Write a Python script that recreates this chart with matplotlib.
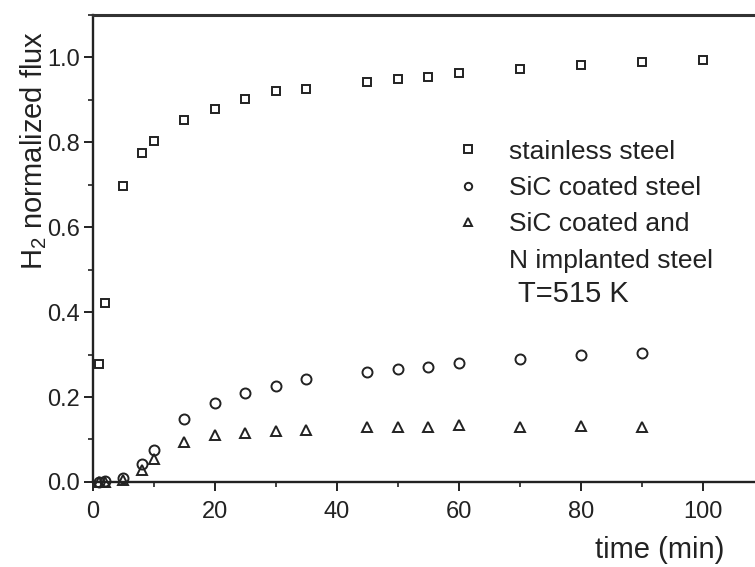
import matplotlib
matplotlib.use("Agg")
import matplotlib.pyplot as plt
from matplotlib.lines import Line2D
from matplotlib.ticker import MultipleLocator

plt.rcParams['font.family'] = ['Liberation Sans', 'DejaVu Sans']
plt.rcParams['mathtext.fontset'] = 'custom'
plt.rcParams['mathtext.rm'] = 'Liberation Sans'

# stainless steel
ss_time = [1, 2, 5, 8, 10, 15, 20, 25, 30, 35, 45, 50, 55, 60, 70, 80, 90, 100]
ss_flux = [0.278, 0.422, 0.696, 0.774, 0.804, 0.852, 0.879, 0.903, 0.920, 0.925,
           0.941, 0.950, 0.955, 0.964, 0.972, 0.983, 0.990, 0.995]

# SiC coated steel
sic_time = [1, 2, 5, 8, 10, 15, 20, 25, 30, 35, 45, 50, 55, 60, 70, 80, 90]
sic_flux = [0.0, 0.003, 0.010, 0.042, 0.075, 0.149, 0.186, 0.210, 0.226, 0.243,
            0.260, 0.266, 0.271, 0.280, 0.290, 0.300, 0.304]

# SiC coated and N implanted steel
sicn_time = [1, 2, 5, 8, 10, 15, 20, 25, 30, 35, 45, 50, 55, 60, 70, 80, 90]
sicn_flux = [0.0, 0.0, 0.005, 0.028, 0.054, 0.094, 0.110, 0.115, 0.120, 0.123,
             0.130, 0.130, 0.130, 0.134, 0.130, 0.132, 0.130]

ink = '#222222'

fig = plt.figure(figsize=(7.55, 5.67), dpi=100)
ax = fig.add_axes([0.123, 0.150, 0.889, 0.8236])

mk = dict(linestyle='none', markerfacecolor='none', markeredgecolor=ink,
          markeredgewidth=1.4, clip_on=False)
ax.plot(ss_time, ss_flux, marker='s', markersize=5.8, **mk)
ax.plot(sic_time, sic_flux, marker='o', markersize=7.2, **mk)
ax.plot(sicn_time, sicn_flux, marker='^', markersize=6.8, **mk)

ax.set_xlim(0, 110)
ax.set_ylim(0, 1.1)
ax.xaxis.set_major_locator(MultipleLocator(20))
ax.xaxis.set_minor_locator(MultipleLocator(10))
ax.yaxis.set_major_locator(MultipleLocator(0.2))
ax.yaxis.set_minor_locator(MultipleLocator(0.1))
ax.yaxis.set_major_formatter(matplotlib.ticker.FormatStrFormatter('%.1f'))

for side in ['left', 'bottom']:
    ax.spines[side].set_linewidth(1.7)
    ax.spines[side].set_color(ink)
ax.spines['top'].set_linewidth(2.2)
ax.spines['top'].set_color('#333333')
ax.spines['right'].set_visible(False)

ax.tick_params(which='major', direction='out', length=6.5, width=1.4,
               labelsize=17, colors=ink)
ax.tick_params(which='minor', direction='out', length=3.5, width=1.2, colors=ink)
ax.tick_params(axis='x', which='major', pad=7)
ax.tick_params(axis='y', which='major', pad=3)

ax.set_ylabel(r'H$_2$ normalized flux', fontsize=21, color=ink)
ax.yaxis.set_label_coords(-0.066, 0.709)
ax.set_xlabel('time (min)', fontsize=21, color=ink)
ax.xaxis.set_label_coords(0.845, -0.116)

leg_handles = [
    Line2D([], [], marker='s', markersize=5.3, **mk),
    Line2D([], [], marker='o', markersize=5.3, **mk),
    Line2D([], [], marker='^', markersize=5.8, **mk),
    Line2D([], [], linestyle='none'),
]
leg_labels = ['stainless steel', 'SiC coated steel', 'SiC coated and', 'N implanted steel']
ax.legend(leg_handles, leg_labels, loc='upper left', bbox_to_anchor=(0.543, 0.733),
          frameon=False, fontsize=19, handlelength=0.8, handletextpad=1.15,
          labelspacing=0.47, borderpad=0, borderaxespad=0, labelcolor=ink)

ax.text(0.633, 0.402, 'T=515 K', transform=ax.transAxes, fontsize=21,
        color=ink, ha='left', va='center')

fig.savefig('out.png', dpi=100)
